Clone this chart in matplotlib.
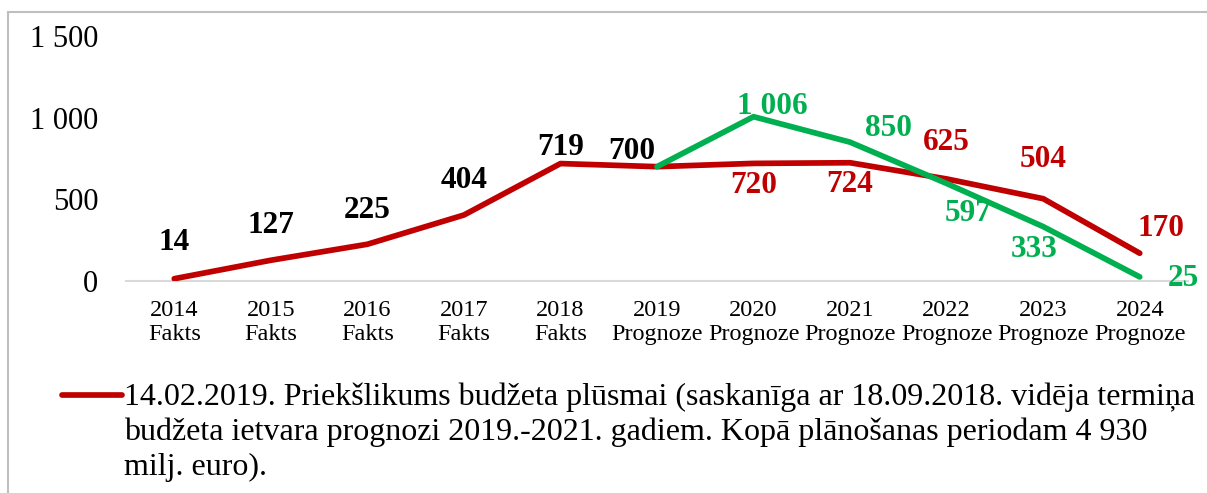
import matplotlib
matplotlib.use("Agg")
import matplotlib.pyplot as plt
from matplotlib.lines import Line2D
from matplotlib.patches import Rectangle

# ---- data ----
years = ["2014", "2015", "2016", "2017", "2018", "2019", "2020", "2021", "2022", "2023", "2024"]
kinds = ["Fakts"] * 5 + ["Prognoze"] * 6
red_values = [14, 127, 225, 404, 719, 700, 720, 724, 625, 504, 170]
green_years_idx = [5, 6, 7, 8, 9, 10]
green_values = [700, 1006, 850, 597, 333, 25]
y_ticks = [0, 500, 1000, 1500]
y_tick_labels = ["0", "500", "1 000", "1 500"]
legend_text = ("14.02.2019. Priekšlikums budžeta plūsmai (saskanīga ar 18.09.2018. vidēja termiņa\n"
               "budžeta ietvara prognozi 2019.-2021. gadiem. Kopā plānošanas periodam 4 930\n"
               "milj. euro).")

RED = "#C00000"
GREEN = "#00B050"

plt.rcParams['font.family'] = ['Liberation Serif', 'DejaVu Serif']

W, H = 1207, 493
fig = plt.figure(figsize=(W / 100, H / 100), dpi=100)

# outer frame (only top/left visible)
fig.add_artist(Rectangle((8 / W, -0.1), 1.2, (H - 12) / H + 0.1, transform=fig.transFigure,
                         fill=False, edgecolor="#BFBFBF", linewidth=1.5))

ax = fig.add_axes([126 / W, (H - 281) / H, 1062 / W, (281 - 36) / H])
x = list(range(len(years)))

LW = 4.1
ax.plot(x, red_values, color=RED, linewidth=LW, solid_capstyle="round", solid_joinstyle="round", zorder=3)
ax.plot(green_years_idx, green_values, color=GREEN, linewidth=LW, solid_capstyle="round",
        solid_joinstyle="round", zorder=4)

ax.set_xlim(-0.5, len(years) - 0.5)
ax.set_ylim(0, 1500)
ax.set_yticks(y_ticks)
ax.set_yticklabels(y_tick_labels)
ax.set_xticks(x)
ax.set_xticklabels([f"{y}\n{k}" for y, k in zip(years, kinds)], linespacing=1.18)
ax.tick_params(axis="y", length=0, pad=20, labelsize=22)
ax.tick_params(axis="x", length=0, pad=13.5, labelsize=17.5)
for s in ["top", "right", "left"]:
    ax.spines[s].set_visible(False)
ax.spines["bottom"].set_color("#D9D9D9")
ax.spines["bottom"].set_linewidth(1.5)

# data labels: offsets in pixels
red_offsets = [(0, 36), (0, 35), (0, 34), (0, 35), (0, 16), (-25, 15),
               (0, -22), (0, -22), (0, 36), (0, 39), (21, 25)]
red_colors = ["black"] * 6 + [RED] * 5
for i, (v, off, c) in enumerate(zip(red_values, red_offsets, red_colors)):
    ax.annotate(f"{v:,}".replace(",", " "), (x[i], v), xytext=off, textcoords="offset pixels",
                ha="center", va="center", fontsize=22.5, fontweight="bold", color=c, zorder=6)

green_offsets = [None, (19, 10), (38, 14), (21, -30), (-9, -23), (44, -2)]
for i, v, off in zip(green_years_idx, green_values, green_offsets):
    if off is None:
        continue
    ax.annotate(f"{v:,}".replace(",", " "), (i, v), xytext=off, textcoords="offset pixels",
                ha="center", va="center", fontsize=22.5, fontweight="bold", color=GREEN, zorder=6)

# legend
fig.add_artist(Line2D([62 / W, 122 / W], [(H - 395) / H] * 2, transform=fig.transFigure,
                      color=RED, linewidth=LW, solid_capstyle="round"))
fig.text(124 / W, (H - 382) / H, legend_text, ha="left", va="top", fontsize=23,
         linespacing=1.27, color="black")

fig.savefig("out.png", dpi=100)
